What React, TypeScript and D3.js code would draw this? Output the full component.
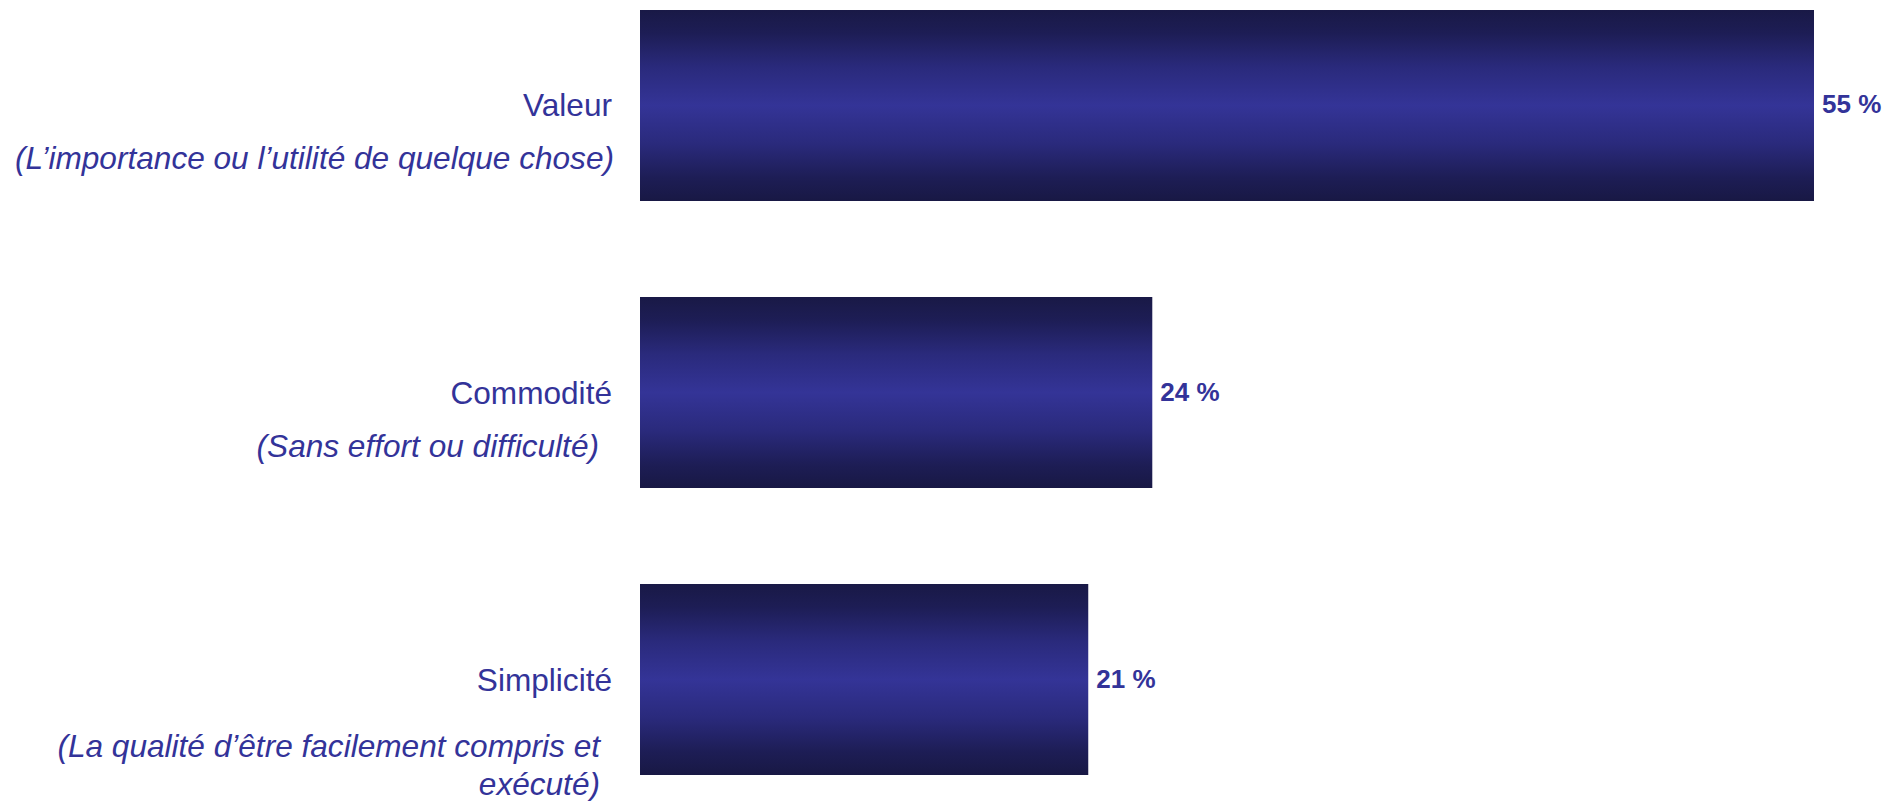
import React from "react";
import * as d3 from "d3";

const categories: string[] = ["Valeur", "Commodité", "Simplicité"];
const descriptions: string[][] = [
  ["(L\u2019importance ou l\u2019utilité de quelque chose)"],
  ["(Sans effort ou difficulté)"],
  ["(La qualité d\u2019être facilement compris et", "exécuté)"],
];
const values: number[] = [55, 24, 21];
const valueLabels: string[] = ["55 %", "24 %", "21 %"];

// layout (not data)
const W = 1902;
const H = 801;
const COLOR = "#333399";
const FONT = "'Liberation Sans', Arial, Helvetica, sans-serif";
const LABEL_SIZE = 31.6;
const subOffsets = [
  { dy: 64, right: 614, lh: 38 },
  { dy: 64, right: 599, lh: 38 },
  { dy: 77, right: 600, lh: 38 },
];

export default function App() {
  const x = d3.scaleLinear().domain([0, 55]).range([640, 1814]);
  const y = d3
    .scaleBand<string>()
    .domain(categories)
    .range([10, 775])
    .paddingInner(0.3345)
    .paddingOuter(0);
  const bw = y.bandwidth();

  return (
    <svg
      width={W}
      height={H}
      style={{ position: "absolute", left: 0, top: 0, display: "block", background: "#fff" }}
    >
      <defs>
        <linearGradient id="barGrad" x1="0" y1="0" x2="0" y2="1">
          <stop offset="0%" stopColor="#191946" />
          <stop offset="12%" stopColor="#1d1d55" />
          <stop offset="30%" stopColor="#2a2a7c" />
          <stop offset="50%" stopColor="#343497" />
          <stop offset="70%" stopColor="#2a2a7c" />
          <stop offset="88%" stopColor="#1d1d55" />
          <stop offset="100%" stopColor="#181844" />
        </linearGradient>
      </defs>
      {categories.map((c, i) => {
        const y0 = y(c) as number;
        const cy = y0 + bw / 2;
        const so = subOffsets[i];
        return (
          <g key={c}>
            <rect
              x={x(0)}
              y={y0}
              width={x(values[i]) - x(0)}
              height={bw}
              fill="url(#barGrad)"
            />
            <text
              x={x(values[i]) + 8}
              y={cy + 8}
              fill={COLOR}
              fontFamily={FONT}
              fontWeight="bold"
              fontSize={26}
            >
              {valueLabels[i]}
            </text>
            <text
              x={612}
              y={cy + 11}
              textAnchor="end"
              fill={COLOR}
              fontFamily={FONT}
              fontSize={LABEL_SIZE}
            >
              {c}
            </text>
            {descriptions[i].map((line, j) => (
              <text
                key={j}
                x={so.right}
                y={cy + so.dy + j * so.lh}
                textAnchor="end"
                fill={COLOR}
                fontFamily={FONT}
                fontStyle="italic"
                fontSize={LABEL_SIZE}
              >
                {line}
              </text>
            ))}
          </g>
        );
      })}
    </svg>
  );
}
